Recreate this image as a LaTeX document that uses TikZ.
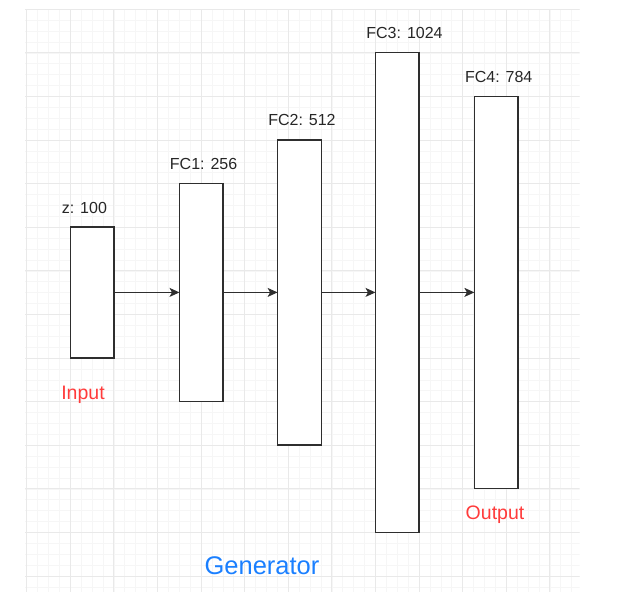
\documentclass[tikz,border=0pt]{standalone}
\usepackage{fontspec}
\setmainfont{Liberation Sans}
\usetikzlibrary{arrows.meta}

\definecolor{gridminor}{HTML}{F6F6F6}
\definecolor{gridmajor}{HTML}{E9E9E9}
\definecolor{labelred}{HTML}{FF3B3B}
\definecolor{labelblue}{HTML}{1A7FFF}
\definecolor{stroke}{HTML}{2E2E2E}

\tikzset{
  minorline/.style={draw=gridminor, line width=0.8pt},
  majorline/.style={draw=gridmajor, line width=0.9pt},
  layer/.style={draw=stroke, fill=white, line width=1.4pt, minimum width=43.6pt,
                inner sep=0pt, outer sep=0pt},
  sizelabel/.style={anchor=base, inner sep=0pt, text=black!85,
                    font=\fontsize{16}{19}\selectfont},
  rolelabel/.style={anchor=base, inner sep=0pt, text=labelred,
                    font=\fontsize{19.5}{23}\selectfont},
  titlelabel/.style={anchor=base, inner sep=0pt, text=labelblue,
                     font=\fontsize{25.5}{30}\selectfont},
  flow/.style={draw=stroke, line width=1.2pt, -{Stealth[length=10pt,width=9pt,inset=2.5pt]}}
}

\begin{document}
\begin{tikzpicture}[x=1pt, y=-1pt]
  \useasboundingbox (0,0) rectangle (620,592);

  % background grid
  \begin{scope}
    \clip (25,9.3) rectangle (579.5,592);
    \foreach \k in {0,...,51} {\draw[minorline] ({26.7+\k*10.9},9.3) -- ({26.7+\k*10.9},592);}
    \foreach \k in {0,...,53} {\draw[minorline] (25,{9.3+\k*10.9}) -- (579.5,{9.3+\k*10.9});}
    \foreach \k in {0,...,12} {\draw[majorline] ({26.7+\k*43.6},9.3) -- ({26.7+\k*43.6},592);}
    \foreach \k in {0,...,13} {\draw[majorline] (25,{9.3+\k*43.6}) -- (579.5,{9.3+\k*43.6});}
  \end{scope}

  % fully connected layers
  \node[layer, minimum height=130.8pt] (z)   at (92.3,292.4) {};
  \node[layer, minimum height=218pt]   (fc1) at (201.3,292.4) {};
  \node[layer, minimum height=305.2pt] (fc2) at (299.4,292.4) {};
  \node[layer, minimum height=479.6pt] (fc3) at (397.3,292.4) {};
  \node[layer, minimum height=392.4pt] (fc4) at (496.2,292.4) {};

  % connections
  \draw[flow] (z.east)   -- (fc1.west);
  \draw[flow] (fc1.east) -- (fc2.west);
  \draw[flow] (fc2.east) -- (fc3.west);
  \draw[flow] (fc3.east) -- (fc4.west);

  % layer sizes
  \node[sizelabel] (zsize)   at (84.4,213.3) {z: 100};
  \node[sizelabel] (fc1size) at (203.6,169.8) {FC1: 256};
  \node[sizelabel] (fc2size) at (302,125.8) {FC2: 512};
  \node[sizelabel] (fc3size) at (404.5,38.6) {FC3: 1024};
  \node[sizelabel] (fc4size) at (498.7,82) {FC4: 784};

  % roles and title
  \node[rolelabel] (input)  at (83,399) {Input};
  \node[rolelabel] (output) at (495,519.5) {Output};
  \node[titlelabel] (title) at (262,574) {Generator};
\end{tikzpicture}
\end{document}
